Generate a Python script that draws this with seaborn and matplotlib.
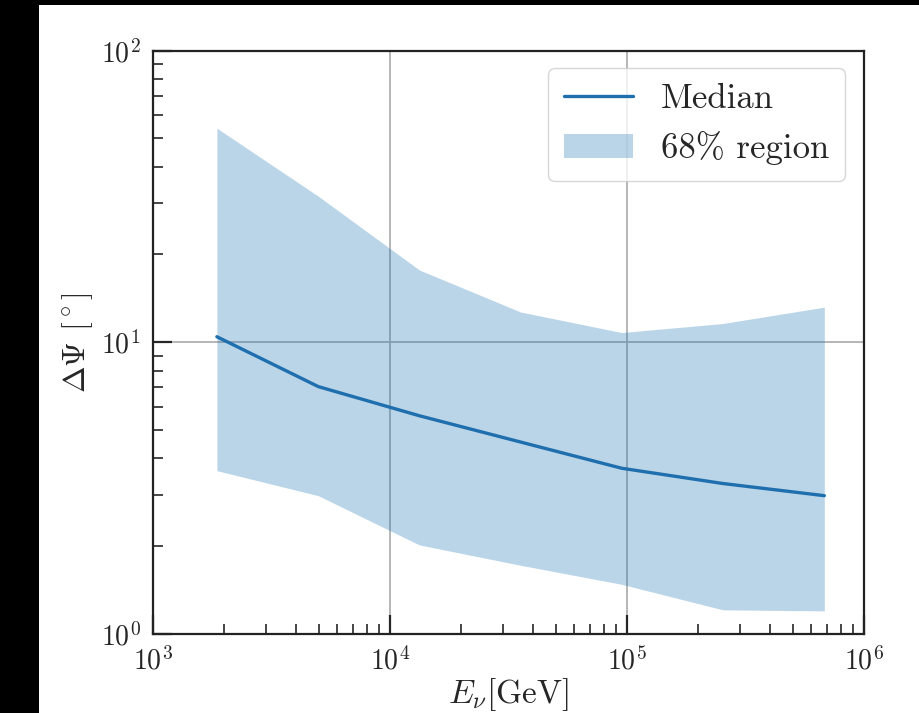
import numpy as np
import pandas as pd
import matplotlib
matplotlib.use("Agg")
import matplotlib.pyplot as plt
import matplotlib.patches as mpatches
import seaborn as sns

# Data
energy = [1.86e3, 4.98e3, 1.33e4, 3.56e4, 9.5e4, 2.54e5, 6.8e5]
median = [10.45, 7.05, 5.6, 4.55, 3.7, 3.28, 2.98]
upper = [54.2, 31.7, 17.7, 12.7, 10.8, 11.6, 13.2]
lower = [3.63, 2.98, 2.02, 1.72, 1.48, 1.21, 1.20]
x_ticks = [1e3, 1e4, 1e5, 1e6]
y_ticks = [1e0, 1e1, 1e2]

sns.set_style("ticks")
plt.rcParams['font.family'] = ['cmr10', 'DejaVu Serif']
plt.rcParams['mathtext.fontset'] = 'cm'
plt.rcParams['axes.unicode_minus'] = False
plt.rcParams['axes.formatter.use_mathtext'] = True

df = pd.DataFrame({"E": energy, "median": median, "lo": lower, "hi": upper})

fig = plt.figure(figsize=(9.19, 7.13), dpi=100)
fig.patch.set_facecolor("white")
# white page, with black scan borders at left and top
fig.add_artist(mpatches.Rectangle((0, 0), 1, 1, transform=fig.transFigure,
                                  facecolor="white", edgecolor="none", zorder=-3))
fig.add_artist(mpatches.Rectangle((0, 0), 39 / 919, 1, transform=fig.transFigure,
                                  facecolor="black", edgecolor="none", zorder=-2))
fig.add_artist(mpatches.Rectangle((0, 1 - 5 / 713), 1, 5 / 713, transform=fig.transFigure,
                                  facecolor="black", edgecolor="none", zorder=-2))

ax = fig.add_axes([153 / 919, (713 - 634) / 713, (864 - 153) / 919, (634 - 50.6) / 713])

sns.lineplot(data=df, x="E", y="median", ax=ax, color="#1f6fae", linewidth=2.4,
             label="Median", zorder=3)
ax.fill_between(df["E"], df["lo"], df["hi"], color="C0", alpha=0.3, linewidth=0,
                label="68% region", zorder=2)

ax.set_xscale("log")
ax.set_yscale("log")
ax.set_xlim(1e3, 1e6)
ax.set_ylim(1e0, 1e2)
ax.set_xticks(x_ticks)
ax.set_yticks(y_ticks)

ax.grid(True, which="major", color="#b0b0b0", linewidth=1.3, zorder=1)
ax.set_axisbelow(True)

ax.tick_params(which="major", direction="in", length=14, width=1.6, labelsize=20, pad=9,
               top=False, right=False)
ax.tick_params(which="minor", direction="in", length=7, width=1.2, top=False, right=False)
for s in ax.spines.values():
    s.set_linewidth(1.6)
    s.set_color("#222222")

ax.set_xlabel(r"$E_\nu$[GeV]", fontsize=24)
ax.set_ylabel(r"$\mathbf{\Delta\Psi}$ [$^\circ$]", fontsize=23)
ax.xaxis.set_label_coords(0.5, -0.072)
ax.yaxis.set_label_coords(-0.082, 0.5)

leg = ax.legend(loc="upper right", fontsize=25, frameon=True, fancybox=True,
                borderpad=0.45, borderaxespad=0.0, handlelength=2.0, handletextpad=0.8,
                labelspacing=0.45, bbox_to_anchor=((845 - 153) / 711, (634 - 68) / 583.4))
leg.get_frame().set_edgecolor("#cccccc")
leg.get_frame().set_linewidth(1.0)

fig.savefig("out.png", dpi=100, facecolor="white")
